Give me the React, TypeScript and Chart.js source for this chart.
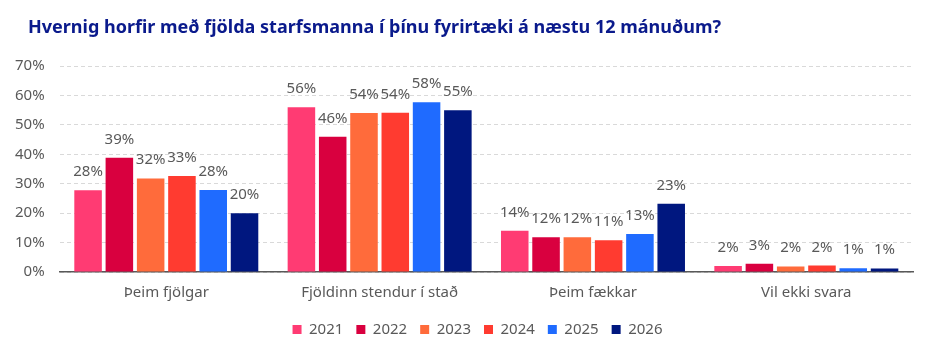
import React, { useEffect, useRef } from "react";
import { Chart, registerables } from "chart.js";

Chart.register(...registerables);

const titleText = "Hvernig horfir með fjölda starfsmanna í þínu fyrirtæki á næstu 12 mánuðum?";
const categories = ["Þeim fjölgar", "Fjöldinn stendur í stað", "Þeim fækkar", "Vil ekki svara"];
const years = ["2021", "2022", "2023", "2024", "2025", "2026"];
const v2021 = [27.8, 56.0, 14.0, 2.0];
const v2022 = [38.8, 46.0, 11.8, 2.8];
const v2023 = [31.8, 54.0, 11.8, 1.9];
const v2024 = [32.6, 54.1, 10.8, 2.2];
const v2025 = [27.9, 57.7, 12.9, 1.3];
const v2026 = [20.0, 55.0, 23.2, 1.2];
const yTicks = [0, 10, 20, 30, 40, 50, 60, 70];
const colors = ["#FF3B73", "#D9003F", "#FF6B3B", "#FF3B30", "#1F6BFF", "#00177F"];

const FONT = "'Noto Sans', sans-serif";
const GREY = "#595959";

export default function App() {
  const ref = useRef<HTMLCanvasElement | null>(null);
  useEffect(() => {
    if (!ref.current) return;
    const series = [v2021, v2022, v2023, v2024, v2025, v2026];
    const titlePlugin = {
      id: "customTitle",
      afterLayout(chart: any) {
        if (chart.legend) {
          chart.legend.left += 21;
          chart.legend.right += 21;
          chart.legend.top += 3;
          chart.legend.bottom += 3;
        }
      },
      afterDraw(chart: any) {
        const ctx = chart.ctx;
        ctx.save();
        ctx.font = `bold 18px ${FONT}`;
        ctx.fillStyle = "#0A1A8C";
        ctx.textBaseline = "alphabetic";
        ctx.textAlign = "left";
        ctx.fillText(titleText, 28, 33);
        ctx.restore();
      },
    };
    const labelPlugin = {
      id: "barLabels",
      afterDatasetsDraw(chart: any) {
        const ctx = chart.ctx;
        ctx.save();
        ctx.font = `15px ${FONT}`;
        ctx.fillStyle = GREY;
        ctx.textAlign = "center";
        ctx.textBaseline = "alphabetic";
        chart.data.datasets.forEach((ds: any, i: number) => {
          const meta = chart.getDatasetMeta(i);
          meta.data.forEach((bar: any, j: number) => {
            const v = ds.data[j];
            ctx.fillText(Math.round(v) + "%", bar.x, bar.y - 14);
          });
        });
        ctx.restore();
      },
    };
    const chart = new Chart(ref.current, {
      type: "bar",
      data: {
        labels: categories,
        datasets: years.map((y, i) => ({
          label: y,
          data: series[i],
          backgroundColor: colors[i],
          borderWidth: 0,
          barPercentage: 0.88,
          categoryPercentage: 0.88,
        })),
      },
      options: {
        animation: false,
        responsive: false,
        maintainAspectRatio: false,
        layout: { padding: { top: 66, left: 0, right: 37, bottom: 14 } },
        plugins: {
          legend: {
            position: "bottom",
            labels: {
              font: { family: FONT, size: 15 },
              color: GREY,
              boxWidth: 9,
              boxHeight: 9,
              padding: 13,
            },
          },
          tooltip: { enabled: false },
          title: { display: false },
        },
        scales: {
          x: {
            grid: { display: false },
            border: { display: true, color: "#595959", width: 1.5 },
            ticks: { font: { family: FONT, size: 15 }, color: GREY, padding: 4 },
          },
          y: {
            min: 0,
            max: 70,
            afterBuildTicks(scale: any) {
              scale.ticks = yTicks.map((v) => ({ value: v }));
            },
            grid: { color: "#D9D9D9", drawTicks: false },
            border: { display: false, dash: [4, 3] },
            ticks: {
              font: { family: FONT, size: 15 },
              color: GREY,
              padding: 15,
              callback: (v: any) => v + "%",
            },
          },
        },
      },
      plugins: [titlePlugin, labelPlugin],
    } as any);
    return () => chart.destroy();
  }, []);
  return (
    <div style={{ position: "absolute", left: 0, top: 0, width: 950, height: 358, background: "#fff" }}>
      <canvas ref={ref} width={950} height={358} style={{ width: 950, height: 358 }} />
    </div>
  );
}
